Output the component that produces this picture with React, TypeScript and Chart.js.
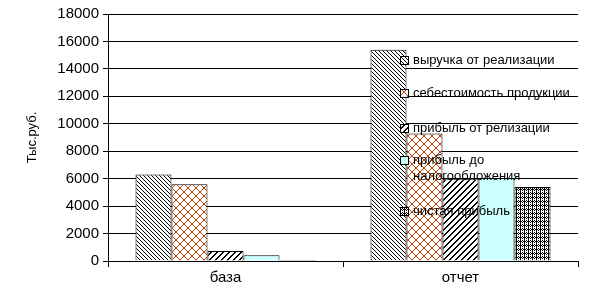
import React, { useEffect, useRef } from "react";
import { Chart, registerables } from "chart.js";

Chart.register(...registerables);

const categories = ["база", "отчет"];
const seriesLabels = [
  "выручка от реализации",
  "себестоимость продукции",
  "прибыль от релизации",
  "прибыль до налогообложения",
  "чистая прибыль",
];
const revenue = [6300, 15400];
const cost = [5600, 9300];
const salesProfit = [730, 5950];
const preTaxProfit = [420, 6050];
const netProfit = [80, 5400];
const yTicks = [0, 2000, 4000, 6000, 8000, 10000, 12000, 14000, 16000, 18000];
const yTitle = "Тыс.руб.";

const seriesValues = [revenue, cost, salesProfit, preTaxProfit, netProfit];

function makePattern(kind: number): CanvasPattern | string {
  if (kind === 3) return "#CCFFFF";
  let size = 4;
  let fg = "#000000";
  let test: (x: number, y: number) => boolean = () => false;
  if (kind === 0) {
    size = 4;
    test = (x, y) => x === y;
  } else if (kind === 1) {
    size = 8;
    fg = "#C04000";
    test = (x, y) => x === y || x === 7 - y;
  } else if (kind === 2) {
    size = 6;
    test = (x, y) => (x + y) % 6 === 0 || (x + y) % 6 === 1;
  } else if (kind === 4) {
    size = 4;
    test = (x, y) => x === 0 || (x === 2 && y % 2 === 0) || ((x === 1 || x === 3) && y === 1);
  }
  const c = document.createElement("canvas");
  c.width = size;
  c.height = size;
  const ctx = c.getContext("2d")!;
  ctx.fillStyle = "#ffffff";
  ctx.fillRect(0, 0, size, size);
  ctx.fillStyle = fg;
  for (let y = 0; y < size; y++) {
    for (let x = 0; x < size; x++) {
      if (test(x, y)) ctx.fillRect(x, y, 1, 1);
    }
  }
  const p = ctx.createPattern(c, "repeat");
  return p || fg;
}

const legendPositions = [60, 93, 128, 160, 211];

const customLegend = {
  id: "customLegend",
  afterDatasetsDraw(chart: any) {
    const ctx = chart.ctx as CanvasRenderingContext2D;
    ctx.save();
    ctx.font = "13px 'Liberation Sans', Arial, sans-serif";
    ctx.textBaseline = "middle";
    chart.data.datasets.forEach((ds: any, i: number) => {
      const y = legendPositions[i];
      const bx = 400;
      ctx.fillStyle = ds.backgroundColor;
      ctx.fillRect(bx, y - 4, 8, 8);
      ctx.strokeStyle = "#000";
      ctx.lineWidth = 1;
      ctx.strokeRect(bx + 0.5, y - 3.5, 8, 8);
      ctx.fillStyle = "#000";
      const words = String(ds.label).split(" ");
      const lines: string[] = [];
      let cur = "";
      for (const w of words) {
        const t = cur ? cur + " " + w : w;
        if (ctx.measureText(t).width > 162 && cur) {
          lines.push(cur);
          cur = w;
        } else cur = t;
      }
      lines.push(cur);
      lines.forEach((ln, k) => ctx.fillText(ln, 413, y + k * 16));
    });
    ctx.restore();
  },
};

export default function App() {
  const ref = useRef<HTMLCanvasElement | null>(null);
  useEffect(() => {
    document.body.style.margin = "0";
    const chart = new Chart(ref.current!, {
      type: "bar",
      data: {
        labels: categories,
        datasets: seriesLabels.map((label, i) => ({
          label,
          data: seriesValues[i],
          backgroundColor: makePattern(i) as any,
          borderColor: "#000000",
          borderWidth: 1,
          categoryPercentage: 0.766,
          barPercentage: 1,
        })),
      },
      options: {
        responsive: false,
        animation: false,
        events: [],
        layout: { padding: { top: 14, right: 11, left: 0, bottom: 0 } },
        plugins: {
          legend: { display: false },
          tooltip: { enabled: false },
        },
        scales: {
          x: {
            grid: {
              display: true,
              drawOnChartArea: false,
              drawTicks: true,
              tickLength: 6,
              color: "#000",
              offset: true,
            },
            border: { display: true, color: "#000" },
            ticks: {
              color: "#000",
              font: { family: "'Liberation Sans', Arial, sans-serif", size: 15 },
              padding: 2,
            },
            afterFit(scale: any) {
              scale.height = 32;
            },
          },
          y: {
            min: 0,
            max: 18000,
            afterBuildTicks(scale: any) {
              scale.ticks = yTicks.map((v) => ({ value: v }));
            },
            grid: {
              color: "#000",
              drawTicks: true,
              tickLength: 5,
            },
            border: { display: true, color: "#000" },
            ticks: {
              color: "#000",
              font: { family: "'Liberation Sans', Arial, sans-serif", size: 15 },
              padding: 4,
              callback: (v: any) => String(v),
            },
            title: {
              display: true,
              text: yTitle,
              color: "#000",
              font: { family: "'Liberation Sans', Arial, sans-serif", size: 13 },
              padding: { top: 25, bottom: 0 },
            },
            afterFit(scale: any) {
              scale.width = 108;
            },
          },
        },
      },
      plugins: [customLegend],
    });
    return () => chart.destroy();
  }, []);
  return (
    <div style={{ width: 589, height: 293 }}>
      <canvas ref={ref} width={589} height={293} style={{ display: "block" }} />
    </div>
  );
}
